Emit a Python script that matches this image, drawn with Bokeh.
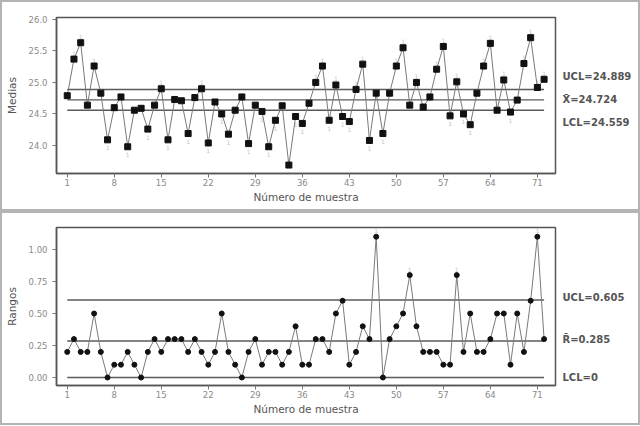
from bokeh.plotting import figure
from bokeh.layouts import column
from bokeh.models import (Range1d, FixedTicker, ColumnDataSource, NumeralTickFormatter,
                          LinearAxis, CustomJSTickFormatter)
from bokeh.embed import file_html
from bokeh.resources import INLINE
from bokeh.core.properties import value

# ---------------- data ----------------
samples = list(range(1, 73))
medias = [24.79, 25.37, 25.63, 24.64, 25.26, 24.83, 24.09, 24.60, 24.77, 23.98,
          24.56, 24.59, 24.26, 24.64, 24.90, 24.09, 24.73, 24.71, 24.19, 24.76,
          24.90, 24.04, 24.69, 24.50, 24.18, 24.56, 24.77, 24.03, 24.64, 24.54,
          23.98, 24.40, 24.63, 23.69, 24.46, 24.35, 24.67, 25.00, 25.26, 24.40,
          24.96, 24.46, 24.38, 24.89, 25.29, 24.08, 24.83, 24.19, 24.83, 25.26,
          25.55, 24.64, 25.00, 24.61, 24.77, 25.21, 25.57, 24.47, 25.01, 24.50,
          24.33, 24.83, 25.26, 25.62, 24.56, 25.04, 24.53, 24.72, 25.30, 25.71,
          24.92, 25.05]
rangos = [0.2, 0.3, 0.2, 0.2, 0.5, 0.2, 0.0, 0.1, 0.1, 0.2, 0.1, 0.0, 0.2, 0.3,
          0.2, 0.3, 0.3, 0.3, 0.2, 0.3, 0.2, 0.1, 0.2, 0.5, 0.2, 0.1, 0.0, 0.2,
          0.3, 0.1, 0.2, 0.2, 0.1, 0.2, 0.4, 0.1, 0.1, 0.3, 0.3, 0.2, 0.5, 0.6,
          0.1, 0.2, 0.4, 0.3, 1.1, 0.0, 0.3, 0.4, 0.5, 0.8, 0.4, 0.2, 0.2, 0.2,
          0.1, 0.1, 0.8, 0.2, 0.5, 0.2, 0.2, 0.3, 0.5, 0.5, 0.1, 0.5, 0.2, 0.6,
          1.1, 0.3]
x_ticks = [1, 8, 15, 22, 29, 36, 43, 50, 57, 64, 71]
medias_ticks = [24.0, 24.5, 25.0, 25.5, 26.0]
rangos_ticks = [0.0, 0.25, 0.5, 0.75, 1.0]
ucl_x, cl_x, lcl_x = 24.889, 24.724, 24.559
ucl_r, cl_r, lcl_r = 0.605, 0.285, 0.0
x_title = "Número de muestra"

FONT = "DejaVu Sans"


def make_panel(y, ylabel, ucl, cl, lcl, y_range, yticks, fmt, labels, marker,
               msize, borders, height):
    p = figure(width=640, height=height, output_backend="svg",
               toolbar_location=None,
               x_range=Range1d(-0.6, 73.7), y_range=y_range,
               min_border_left=borders[0], min_border_right=borders[1],
               min_border_top=borders[2], min_border_bottom=borders[3],
               styles={"border": "2px solid #b4b4b4"})
    p.grid.visible = False
    p.outline_line_color = "#555555"
    p.outline_line_width = 1.5
    p.background_fill_color = "white"
    p.border_fill_color = "white"

    for ax in (p.xaxis[0], p.yaxis[0]):
        ax.axis_line_color = "#555555"
        ax.axis_line_width = 1.5
        ax.major_tick_line_color = "#777777"
        ax.major_tick_out = 4
        ax.major_tick_in = 0
        ax.minor_tick_line_color = None
        ax.major_label_text_font = FONT
        ax.major_label_text_font_size = "8.5px"
        ax.major_label_text_color = "#8a8a8a"
        ax.axis_label_text_font = FONT
        ax.axis_label_text_font_size = "10.5px"
        ax.axis_label_text_font_style = "normal"
        ax.axis_label_text_color = "#555555"
    p.xaxis.major_label_standoff = 1
    p.xaxis.axis_label_standoff = 2
    p.yaxis.major_label_standoff = 5
    p.yaxis.axis_label_standoff = 8

    p.xaxis.ticker = FixedTicker(ticks=x_ticks)
    p.yaxis.ticker = FixedTicker(ticks=yticks)
    p.yaxis.formatter = NumeralTickFormatter(format=fmt)
    p.xaxis.axis_label = x_title
    p.yaxis.axis_label = ylabel

    # control lines
    for lv in (ucl, cl, lcl):
        p.line([samples[0], samples[-1]], [lv, lv], line_color="#5a5a5a",
               line_width=1.4)

    # test-failure markers (faint)
    tx, ty, toff = [], [], []
    for xi, yi in zip(samples, y):
        if yi > ucl:
            tx.append(xi); ty.append(yi); toff.append(-6)
        elif yi < lcl:
            tx.append(xi); ty.append(yi); toff.append(8)
    src_t = ColumnDataSource(dict(x=tx, y=ty, off=toff, t=["1"] * len(tx)))
    p.text(x="x", y="y", text="t", y_offset="off", source=src_t,
           text_font=value(FONT), text_font_size="6px", text_color="#c4c4c4",
           text_align="center", text_baseline="middle")

    src = ColumnDataSource(dict(x=samples, y=y))
    p.line("x", "y", source=src, line_color="#7a7a7a", line_width=1)
    p.scatter("x", "y", source=src, marker=marker, size=msize,
              fill_color="#111111", line_color="#111111")

    # right-hand control-limit labels, drawn as a tick-label-only axis
    lab_txt = [t for t, _ in labels]
    lab_pos = [v for _, v in labels]
    rax = LinearAxis(
        ticker=FixedTicker(ticks=lab_pos),
        formatter=CustomJSTickFormatter(
            args=dict(labs=lab_txt, vals=lab_pos),
            code="""
                let best = 0, d = 1e9;
                for (let i = 0; i < vals.length; i++) {
                    const dd = Math.abs(vals[i] - tick);
                    if (dd < d) { d = dd; best = i; }
                }
                return labs[best];
            """),
        axis_line_color=None, major_tick_line_color=None,
        minor_tick_line_color=None, major_tick_out=0, major_tick_in=0,
        major_label_standoff=7,
        major_label_text_font=FONT, major_label_text_font_size="10px",
        major_label_text_font_style="bold", major_label_text_color="#555555")
    p.add_layout(rax, "right")
    return p


top_labels = [(f"UCL={ucl_x:.3f}", ucl_x + 0.20),
              (f"X\u0304={cl_x:.3f}", cl_x),
              (f"LCL={lcl_x:.3f}", lcl_x - 0.20)]
bot_labels = [(f"UCL={ucl_r:.3f}", ucl_r + 0.02),
              (f"R\u0304={cl_r:.3f}", cl_r + 0.012),
              (f"LCL={lcl_r:g}", lcl_r)]

p1 = make_panel(medias, "Medias", ucl_x, cl_x, lcl_x, Range1d(23.556, 26.03),
                medias_ticks, "0.0", top_labels, "square", 6,
                (54, 87, 15, 40), 211)
p2 = make_panel(rangos, "Rangos", ucl_r, cl_r, lcl_r, Range1d(-0.0625, 1.172),
                rangos_ticks, "0.00", bot_labels, "circle", 5,
                (54, 87, 14, 42), 214)

layout = column(p1, p2, spacing=0)
open("out.html", "w").write(file_html(layout, INLINE))
